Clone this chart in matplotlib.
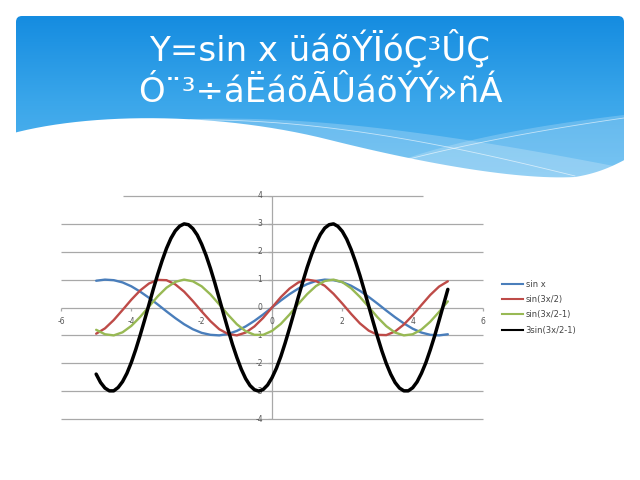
import matplotlib
matplotlib.use("Agg")
import matplotlib.pyplot as plt
import numpy as np
from matplotlib.patches import FancyBboxPatch, Polygon
from matplotlib.colors import LinearSegmentedColormap

# values, x from -5 to 5
x_vals = [-5.0, -4.75, -4.5, -4.25, -4.0, -3.75, -3.5, -3.25, -3.0, -2.75,
          -2.5, -2.25, -2.0, -1.75, -1.5, -1.25, -1.0, -0.75, -0.5, -0.25,
          0.0, 0.25, 0.5, 0.75, 1.0, 1.25, 1.5, 1.75, 2.0, 2.25,
          2.5, 2.75, 3.0, 3.25, 3.5, 3.75, 4.0, 4.25, 4.5, 4.75, 5.0]
sin_x = [0.96, 1.00, 0.98, 0.90, 0.76, 0.57, 0.35, 0.11, -0.14, -0.38,
         -0.60, -0.78, -0.91, -0.98, -1.00, -0.95, -0.84, -0.68, -0.48, -0.25,
         0.00, 0.25, 0.48, 0.68, 0.84, 0.95, 1.00, 0.98, 0.91, 0.78,
         0.60, 0.38, 0.14, -0.11, -0.35, -0.57, -0.76, -0.90, -0.98, -1.00, -0.96]
sin_3x2 = [-0.94, -0.75, -0.45, -0.09, 0.28, 0.61, 0.86, 0.99, 0.98, 0.83,
           0.57, 0.23, -0.14, -0.49, -0.78, -0.95, -1.00, -0.90, -0.68, -0.37,
           0.00, 0.37, 0.68, 0.90, 1.00, 0.95, 0.78, 0.49, 0.14, -0.23,
           -0.57, -0.83, -0.98, -0.99, -0.86, -0.61, -0.28, 0.09, 0.45, 0.75, 0.94]
sin_3x2_1 = [-0.80, -0.96, -1.00, -0.89, -0.66, -0.34, 0.03, 0.40, 0.71, 0.92,
             1.00, 0.94, 0.76, 0.47, 0.11, -0.26, -0.60, -0.85, -0.98, -0.98,
             -0.84, -0.59, -0.25, 0.13, 0.48, 0.77, 0.95, 1.00, 0.91, 0.69,
             0.38, 0.02, -0.35, -0.67, -0.90, -1.00, -0.96, -0.79, -0.51, -0.16, 0.22]

# the black curve is read at a finer step
x_fine = [-5.0, -4.875, -4.75, -4.625, -4.5, -4.375, -4.25, -4.125, -4.0, -3.875,
          -3.75, -3.625, -3.5, -3.375, -3.25, -3.125, -3.0, -2.875, -2.75, -2.625,
          -2.5, -2.375, -2.25, -2.125, -2.0, -1.875, -1.75, -1.625, -1.5, -1.375,
          -1.25, -1.125, -1.0, -0.875, -0.75, -0.625, -0.5, -0.375, -0.25, -0.125,
          0.0, 0.125, 0.25, 0.375, 0.5, 0.625, 0.75, 0.875, 1.0, 1.125,
          1.25, 1.375, 1.5, 1.625, 1.75, 1.875, 2.0, 2.125, 2.25, 2.375,
          2.5, 2.625, 2.75, 2.875, 3.0, 3.125, 3.25, 3.375, 3.5, 3.625,
          3.75, 3.875, 4.0, 4.125, 4.25, 4.375, 4.5, 4.625, 4.75, 4.875, 5.0]
three_sin = [-2.39, -2.69, -2.89, -2.99, -2.99, -2.87, -2.66, -2.36, -1.97, -1.51,
             -1.00, -0.46, 0.10, 0.66, 1.19, 1.68, 2.12, 2.48, 2.75, 2.92,
             3.00, 2.97, 2.83, 2.60, 2.27, 1.87, 1.40, 0.88, 0.32, -0.24,
             -0.79, -1.32, -1.79, -2.21, -2.55, -2.80, -2.95, -3.00, -2.94, -2.78,
             -2.52, -2.18, -1.76, -1.27, -0.74, -0.19, 0.38, 0.92, 1.44, 1.90,
             2.30, 2.62, 2.85, 2.97, 3.00, 2.91, 2.73, 2.45, 2.08, 1.64,
             1.15, 0.61, 0.05, -0.51, -1.05, -1.56, -2.01, -2.39, -2.69, -2.89,
             -2.99, -2.99, -2.88, -2.67, -2.36, -1.98, -1.52, -1.02, -0.47, 0.09, 0.65]

series_labels = ["sin x", "sin(3x/2)", "sin(3x/2-1)", "3sin(3x/2-1)"]
x_ticks = [-6, -4, -2, 0, 2, 4, 6]
y_ticks = [-4, -3, -2, -1, 0, 1, 2, 3, 4]

title_1 = "Y=sin x üáõÝÏóÇ³ÛÇ"
title_2 = "Ó¨³÷áËáõÃÛáõÝÝ»ñÁ"

fig = plt.figure(figsize=(6.4, 4.8), dpi=100)

# slide background, pixel coordinates
bg = fig.add_axes([0, 0, 1, 1])
bg.set_xlim(0, 640)
bg.set_ylim(480, 0)
bg.axis("off")

header = FancyBboxPatch((16, 16), 608, 170, boxstyle="round,pad=0,rounding_size=6",
                        facecolor="none", edgecolor="none")
bg.add_patch(header)
grad = np.linspace(0, 1, 256).reshape(-1, 1)
cmap = LinearSegmentedColormap.from_list("hdr", ["#158ce0", "#3aa6ea", "#5ab8f0"])
im = bg.imshow(grad, cmap=cmap, extent=(16, 624, 186, 16), aspect="auto", zorder=1)
im.set_clip_path(header)


def bez(p0, p1, p2, p3, n=30):
    t = np.linspace(0, 1, n)[:, None]
    p0, p1, p2, p3 = map(np.array, (p0, p1, p2, p3))
    return (1 - t) ** 3 * p0 + 3 * (1 - t) ** 2 * t * p1 + 3 * (1 - t) * t ** 2 * p2 + t ** 3 * p3


# lighter streaks
band = np.vstack([bez((190, 119), (300, 116), (420, 128), (624, 168)),
                  [(624, 200), (190, 200)]])
bg.add_patch(Polygon(band, closed=True, facecolor="white", alpha=0.22, edgecolor="none", zorder=2))
band2 = np.vstack([bez((380, 168), (450, 140), (540, 125), (624, 115)),
                   [(624, 200), (380, 200)]])
bg.add_patch(Polygon(band2, closed=True, facecolor="white", alpha=0.2, edgecolor="none", zorder=2))
bg.plot(*bez((190, 120), (330, 118), (470, 150), (575, 176)).T, color="white", lw=0.6, alpha=0.6, zorder=3)
bg.plot(*bez((390, 164), (460, 145), (540, 130), (624, 118)).T, color="white", lw=0.6, alpha=0.6, zorder=3)

# white wave under the header
wave = np.vstack([bez((10, 134), (90, 112), (220, 112), (330, 140)),
                  bez((330, 140), (430, 165), (520, 180), (575, 177)),
                  bez((575, 177), (600, 173), (615, 165), (630, 157)),
                  [(630, 200), (10, 200)]])
bg.add_patch(Polygon(wave, closed=True, facecolor="white", edgecolor="none", zorder=4))

fig.text(0.5, 1 - 48 / 480, title_1, ha="center", va="center", color="white", fontsize=24.5)
fig.text(0.5, 1 - 93 / 480, title_2, ha="center", va="center", color="white", fontsize=24.5)

# chart
ax = fig.add_axes([61 / 640, 61 / 480, 422 / 640, 223 / 480])
ax.set_xlim(-6, 6)
ax.set_ylim(-4, 4)
ax.axis("off")

grid_c = "#a8a8a8"
for yv in y_ticks:
    if yv == 4:
        ax.hlines(yv, -4.24, 4.29, color=grid_c, lw=0.9, zorder=1, clip_on=False)
    else:
        ax.hlines(yv, -6, 6, color=grid_c, lw=0.9, zorder=1, clip_on=False)
    ax.hlines(yv, -0.1, 0, color=grid_c, lw=0.9, zorder=1)
ax.vlines(0, -4, 4, color=grid_c, lw=0.9, zorder=1, clip_on=False)
for xv in x_ticks:
    ax.vlines(xv, -0.12, 0, color=grid_c, lw=0.9, zorder=1, clip_on=False)

for xv in x_ticks:
    ax.text(xv, -0.5, str(xv), ha="center", va="center", fontsize=5.5, color="#555555")
for yv in y_ticks:
    ax.text(-0.35, yv, str(yv), ha="center", va="center", fontsize=5.5, color="#555555")

colors = ["#4a7ebb", "#be4b48", "#98b954", "black"]
widths = [1.7, 1.7, 1.7, 2.5]
series = [(x_vals, sin_x), (x_vals, sin_3x2), (x_vals, sin_3x2_1), (x_fine, three_sin)]
for (xs, ys), c, w, lab in zip(series, colors, widths, series_labels):
    ax.plot(xs, ys, color=c, lw=w, label=lab, zorder=3,
            solid_capstyle="round", solid_joinstyle="round")

fig.legend(handles=[plt.Line2D([], [], color=c, lw=1.5) for c in colors],
           labels=series_labels, loc="center left", bbox_to_anchor=(0.772, 0.36),
           frameon=False, fontsize=6, handlelength=2.6, handletextpad=0.3,
           labelspacing=0.75, labelcolor="#444444")

fig.savefig("out.png", dpi=100)
